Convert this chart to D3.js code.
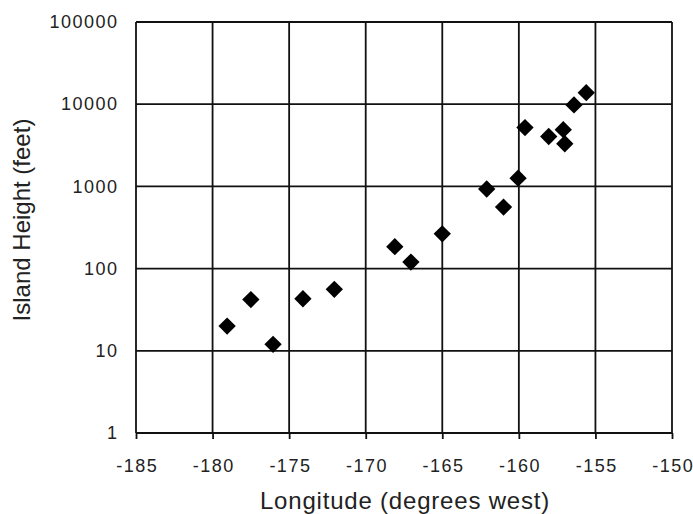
<!DOCTYPE html>
<html>
<head>
<meta charset="utf-8">
<script src="https://cdn.jsdelivr.net/npm/d3@7"></script>
<style>
  body { margin: 0; background: #fff; }
  svg text { font-family: "Liberation Sans", Arial, sans-serif; }
</style>
</head>
<body>
<script>
// longitude (degrees west) and island height (feet)
const longitudes = [-179.05, -177.5, -176.05, -174.1, -172.05, -168.1, -167.05, -165.0,
  -162.1, -161.0, -160.05, -159.6, -158.05, -157.1, -157.0, -156.4, -155.6];
const heights = [20, 42, 12, 43, 56, 185, 120, 265,
  930, 560, 1260, 5200, 4050, 4900, 3300, 9800, 13800];

const xTicks = [-185, -180, -175, -170, -165, -160, -155, -150];
const yTicks = [1, 10, 100, 1000, 10000, 100000];

const width = 693;
const height = 514;
const margin = { top: 22, right: 21, bottom: 81, left: 136 };

const svg = d3.select("body")
  .append("svg")
  .attr("width", width)
  .attr("height", height);

const x = d3.scaleLinear()
  .domain([-185, -150])
  .range([margin.left, width - margin.right]);

const y = d3.scaleLog()
  .domain([1, 100000])
  .range([height - margin.bottom, margin.top]);

// plain hyphen for negatives, like the original
const fmt = d => String(d);

// grid lines
svg.append("g")
  .selectAll("line")
  .data(xTicks)
  .enter()
  .append("line")
  .attr("x1", d => x(d))
  .attr("x2", d => x(d))
  .attr("y1", margin.top)
  .attr("y2", height - margin.bottom)
  .attr("stroke", "#111")
  .attr("stroke-width", 1.8);

svg.append("g")
  .selectAll("line")
  .data(yTicks)
  .enter()
  .append("line")
  .attr("x1", margin.left)
  .attr("x2", width - margin.right)
  .attr("y1", d => y(d))
  .attr("y2", d => y(d))
  .attr("stroke", "#111")
  .attr("stroke-width", 1.8);

const styleTickText = g => g.selectAll(".tick text")
  .attr("font-size", 18)
  .attr("letter-spacing", 1.5)
  .attr("fill", "#222")
  .style("font-family", "'Liberation Sans', Arial, sans-serif");

// bottom axis: short ticks + labels
const xAxis = d3.axisBottom(x)
  .tickValues(xTicks)
  .tickSize(6)
  .tickFormat(fmt);

svg.append("g")
  .attr("transform", `translate(0,${height - margin.bottom})`)
  .call(xAxis)
  .call(g => g.select(".domain").remove())
  .call(g => g.selectAll(".tick line").attr("stroke", "#111").attr("stroke-width", 1.8))
  .call(styleTickText)
  .call(g => g.selectAll(".tick text").attr("y", 39).attr("dy", null).attr("dx", 0.75));

const yAxis = d3.axisLeft(y)
  .tickValues(yTicks)
  .tickSize(0)
  .tickPadding(17.5)
  .tickFormat(fmt);

svg.append("g")
  .attr("transform", `translate(${margin.left},0)`)
  .call(yAxis)
  .call(g => g.select(".domain").remove())
  .call(styleTickText);

// points as diamonds (rotated squares)
svg.append("g")
  .selectAll("path")
  .data(longitudes.map((lon, i) => ({ lon, h: heights[i] })))
  .enter()
  .append("path")
  .attr("d", d3.symbol().type(d3.symbolSquare).size(150))
  .attr("transform", d => `translate(${x(d.lon)},${y(d.h)}) rotate(45)`)
  .attr("fill", "#000");

// axis titles
svg.append("text")
  .attr("x", 405)
  .attr("y", 509)
  .attr("text-anchor", "middle")
  .attr("font-size", 24)
  .attr("letter-spacing", 0.8)
  .attr("fill", "#222")
  .text("Longitude (degrees west)");

svg.append("text")
  .attr("transform", "translate(30,220) rotate(-90)")
  .attr("text-anchor", "middle")
  .attr("font-size", 24)
  .attr("fill", "#222")
  .text("Island Height (feet)");
</script>
</body>
</html>
